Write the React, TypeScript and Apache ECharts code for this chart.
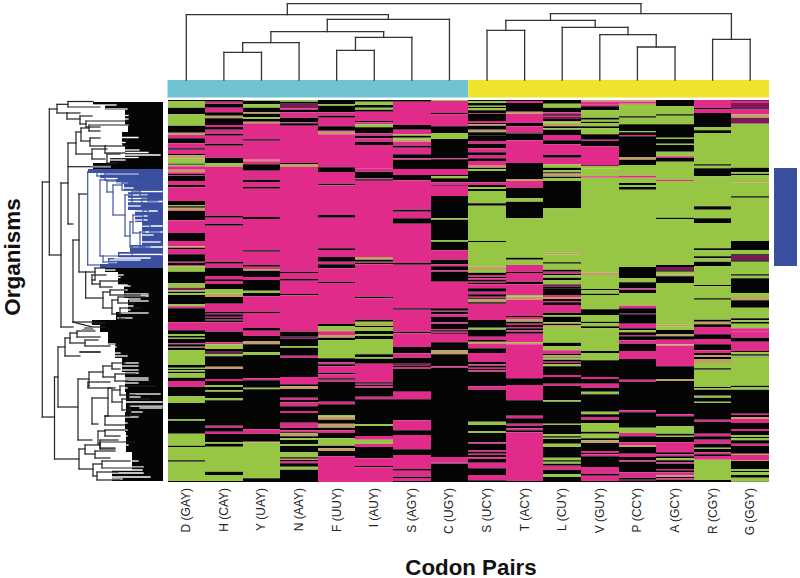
import React, { useEffect, useRef } from "react";
import * as echarts from "echarts";

const categories = ["D (GAY)", "H (CAY)", "Y (UAY)", "N (AAY)", "F (UUY)", "I (AUY)", "S (AGY)", "C (UGY)", "S (UCY)", "T (ACY)", "L (CUY)", "V (GUY)", "P (CCY)", "A (GCY)", "R (CGY)", "G (GGY)"];

// Runs per column: state letter + row where the run ends (G up, P down, K neutral, T/M mixed)
const colD = "K1 G7.7 K14.3 G25.7 K32.7 T35 P38.3 K43.3 P48.3 K49.7 P54 K55.3 T58.7 G63.7 K64.7 G66.3 P69.7 T72.3 P74 K75 P75.7 K81 P85 K87.3 P101 K105 G106.3 K107.7 T110.3 P111 K120.3 P133 K141 P146.3 T147.7 K149 P154.3 K161.7 P162.7 K165 P166.3 G171.7 K183 G187.7 M190.3 G191.7 K193.3 G195 K204.3 G206.3 P208.3 K222.3 P230.3 K234 G236 K237.7 G239 K243.3 P244.3 K246.7 T247.7 K250.3 G265 K267.7 G269 K270.3 G271.7 K273 G277.7 K281 P286.7 K296.3 G303 K319 G320.7 K333.7 G345.7 K347 G360.3 K361.7 G381 K382";
const colH = "K1.7 P3.7 K7.7 P12.3 K15.7 T18.3 K25 P27 K29.7 P33.7 K35.7 P43.7 K45.7 P57.7 K63.3 G66 T66.7 P115.7 K117.7 P123.7 K125.7 P161.7 K163.7 P167.7 K176 P179.3 K181 P184 K189 G193.7 T197 K203.7 P211.7 K213.3 M215 K216 M217.7 K219.3 M220.7 K222.3 P231.7 K242.3 P244.3 G249 K251 M253.3 K254.3 G256.3 K266.7 T269 K279 P281 K285 G287 K290.3 G291.7 K298.3 G300.3 K325.7 P327.7 K331.7 P334 K342.3 G343.7 K346.7 G371.7 K375 G381 K382";
const colY = "G1 K4.3 G7.7 K12.3 T13.7 K17 G19 K21.7 T23.3 P39.3 K40.7 P59.7 T61.3 P64.3 K70.7 P79.7 K82 P87 K88.7 P117 K119 P150.3 K151.7 P165 K166.7 P169 T170.7 K177 P180 K190.7 G193 K196.3 P211.7 K213 P228 K230.7 P236 K241 T244.3 K252.3 G255 K278.3 P280.3 K287.7 G289.3 K329.3 P333.7 K341.7 T342.7 G378.3 K382";
const colN = "G1.7 K3.7 M8.3 P9.7 K12.3 P17.7 K22.3 P23.3 K25.7 P63 K64 T67 P171.7 K173 P179 K180.7 P194 K195.3 P231.7 K236.7 M238.7 K246 G247.7 K255.7 P257.7 K277 P284.3 K286.3 T289 K297.7 P299.7 K302.3 P306.3 K311 P313 K322.7 P327.7 K330.3 P332.3 K333.3 T336.3 K338.3 G340 K344.3 G346 K352.3 G357.3 K358.7 T360 K361 P363.3 K366.7 G369.7 K382";
const colF = "K4 G5.7 K12.3 P15.7 K17.7 P26.3 K30.7 P31.7 T34.3 P67.3 K72 P83.7 K85.3 P115 K117.7 P148.3 K150 P157 K161.7 P164.3 K168.3 P181.7 K183 P223.7 K226.3 G231.3 P235 T237.7 K240.3 G258.3 K262.3 P264.3 K266.3 P272.7 K274.3 P278.3 K279.7 P281.7 K301.7 P304.3 K315 G316.5 T319.7 K323.7 T327.7 K330.3 P333 K338.3 G345.7 K348.3 T351 K356.3 P382";
const colI = "K1.7 G5 K7.7 G9.7 K11.7 P21 K22.3 P24.3 G27.3 K33.3 P35.7 K38.3 P41.7 K45 P68.3 P71.7 K78.3 P79.3 K80.7 P157 T159.7 K161.7 P162.7 K164.3 P196.7 K198.3 P219.7 K221.7 G224 T226 K227 G231 K234.3 G236 K239 G254.3 K257 G258.7 K263.7 P282.3 K283.7 P285 K286.3 P287.7 K296.7 P299.3 K324.3 G326 K336 P339.7 G344 P347 K358.3 P366 K367.3 P382";
const colS = "K1.7 P25 K29.7 P34.3 G35.7 K37.7 G39.7 T41.7 P45.7 K47.7 P54.3 K58.3 P59.7 K69 P75 K80.3 P109.7 K111.7 P118.3 K123.7 P162.7 K164.7 P208.3 K209.7 P231.7 K233.3 P247 K253.3 P257.7 K263.7 M265.7 K267 P268.7 K291.7 P299.3 K320.3 P330.3 K335 P349.3 K355 P369 K370.7 P376.7 K378 P381 K382";
const colC = "G1 P13 K14.3 P26.3 K33 G39 K58.3 P59.3 K69 P75 K76 G78.3 K82.3 P85 K85.7 P96 K118.3 G119.7 K140 G141.7 K150.3 P159.7 K164.3 P166.3 K170.3 P171.7 K181.7 P208.3 K210.7 P211.7 K214.3 P217 K222.3 P223.7 K229 P230.3 K231.7 P233.3 K234 P242.3 K250.3 T254.3 K266.3 P267.7 K357 P361.7 K362.3 P363.7 K382";
const colS2 = "K1 G3 K5.7 G7 K8.3 G10.3 K13 P13.7 K21 P23 K24.3 T25.7 K29.7 T32.3 K35.7 K41 P43.7 K48.3 P52.3 K55 P58.3 K61 P65.7 T67.7 K69 G71 K81 K82.3 P85 K87 G89 K91 G103.3 K105.7 G141 K142 G166.7 T170 G172.7 K175 P176.7 K178.3 P180 K181.7 P183 K184.3 P188.3 K191.7 P194.3 K196.7 P198.3 K199 T202.3 K203.7 P220 K227.7 G229.7 K236.7 P240 K241.7 T244 P248.3 K253 P261.7 K264.3 P265.7 K267.7 P269 K270.3 P271.7 K286.3 P289.7 K321.7 G325 K331 G333 K342.3 P343.7 K350 P351.7 K353.7 P355 K357.3 P359 K362.7 P368.3 K375 P380.3 K382";
const colT = "K1 P3 K11.7 T13.7 P23 K26.3 P32.3 M33.5 K35 K40.3 P63 K79 T81 P87.7 K98.3 G101.7 K118.3 G157.7 K159.7 G165 P171.7 K173 P181.7 K184.3 P195 G196.5 T199.7 P215.7 K217 P219 T221.7 K223.7 P225 K227 P228.3 K230.3 P231.7 K233.7 P242.3 T244.3 P278.3 K285 P300.3 K315.7 P318.3 K323.7 P325.7 K328.3 P330.3 K332.3 P381 K382";
const colL = "K3.7 G7.7 K12.3 P14.3 K15.7 P17 M19 K21 T22.3 G24 T26.3 K28.3 G29.7 K35 P40.3 K44.3 P55 K57.7 P64.3 G67.7 K70.3 G72.3 K73.5 T76.7 K78.3 G81 K108.3 G152.3 T154.3 G162.3 K163.7 G169.7 K171.7 P173.7 K175 G177.7 K180 G184.3 M186.7 K188.3 K195 P197 T199 K201 P202.3 K205 P212.7 K215 G216.7 K222.3 G223.7 K225 T227 G242.7 K246.3 G250.3 P253.7 K255 T257.7 K258.3 G259.7 K261.7 P263 K264.3 G266.3 K275 P277 K283.7 P285.7 K300.3 G301.7 K323.7 G325 K334.3 G336.3 K337.7 G339 K343.7 G347 K357.7 G360.3 K361.7 G363.7 K365.7 P369.7 K374.3 G377 K382";
const colV = "T1.7 P4.3 P6.3 K10.3 G17.7 K19.7 G21.7 K23 G26.3 K28.3 G34.3 K39.7 P41 K46.3 P65 M66 G68.3 G76.3 P77.7 G172.3 T175 G189 K190.3 G193.7 K195 G209.3 K215 G221.7 K223 G226.3 K228.3 G251 K253 G260.3 K277 P279 K283.7 P287.7 K291.7 G294.3 K311.7 G314.3 K317 P319.7 K323 G331.7 K333.7 G338.3 K340.3 T343 K351 P353 K354.3 P356.3 K367 P373.7 K375.7 P381 K382";
const colP = "T1.7 P3.7 T5 G16.3 K17.7 G24.3 K31 G32.3 K35 P36.3 K57 T59.7 K65 G75.7 P77.7 G83 K85 G87 K89.7 G167 K178.3 G182.3 K188.3 P189.7 K193 G205.7 P208.3 K213.7 P214.3 K223.7 P228.3 K230.3 G232.3 K235 P236.3 K240.3 P243.7 K251 P259 K279.7 P281.7 K310.3 P312.3 K327.7 G333 P336.3 K342.3 P345 T347 K353.7 P357 K360.3 P361.7 K372.3 P377.7 K379.7 M381 K382";
const colA = "K6.3 G14.3 K15.7 G24.3 K37.7 G39 K43.7 G45 K51.7 G56.3 P57.7 K61.7 G79.7 P81 G117.7 K119 G165 K167 M170.3 K171.7 G174.5 T176.3 K183 G224.3 T226.3 G230 K234.3 T236.3 K239.7 P244.3 T245.7 P266.3 K279 T281 K314.3 P316.3 K326.3 G333.7 K335.7 G337 K342.3 P352.3 K354.3 P356.3 K358.3 G360.3 K362.3 P363.7 K369 P370.3 K372.3 P375.5 T377 K378.3 P379.7 K382";
const colR = "P7.7 K9 P13 K27 G30.3 K33 G64.3 K65.7 G68.3 K76.3 G106.3 K109.7 G118.3 K123 G148.3 K150.3 G156.3 K158.3 G161.7 K166.3 G185 K186.3 G198.3 K199.7 G219.7 K221.7 T224.3 K227 P234.3 K239 P244.3 K250.3 P253 K255 T257 K259 T263 G268.3 K269.7 G287 K288.3 G289.7 K295.7 G297.7 K301.7 G303 K319.7 P321.7 K333.7 P336.3 K339.7 P343.7 K347.7 G349 K352.3 P354.3 K356 P359.7 G380 K382";
const colG = "M1 P3 M9.7 P14.3 T17.7 M23.7 G67.7 K72.3 G73.7 K75 G81 T82.3 G96.3 K97.7 G141 K150.3 G154.3 K155.7 M160.3 K161.7 G174.3 K175.7 G178.3 K193 G197 T200.3 K207.7 G218.3 K220.3 G222 K223.7 G228.3 P231.7 P237.7 K241.7 P251 K252 G254.3 K255.7 G257.5 K257.7 G285.7 K287 G289.7 K313.7 P315 K317 T319 P323 K329 P331 K335 G337 K338.3 G340.3 K343.7 P345.7 K353.7 T355 P360 T361 K369 G371 K372.3 G375 K377.7 G381.7 K382";
const columnRuns = [colD, colH, colY, colN, colF, colI, colS, colC, colS2, colT, colL, colV, colP, colA, colR, colG];
const stateColors: Record<string, string> = { G: "#97c644", P: "#e02b8a", K: "#050505", T: "#c2a063", M: "#7d1a55" };

// Column tree: [left, right, height]; numbers are columns, "mN" an earlier merge
const topMerges: [number | string, number | string, number][] = [
  [1, 2, 52.3], ["m0", 3, 42.7], [4, 5, 50.3], ["m2", 6, 37.3], ["m1", "m3", 31.7], ["m4", 7, 19.3], [0, "m5", 14.7],
  [8, 9, 30.3], [12, 13, 47], [11, "m8", 34.7], [10, "m9", 27.3], ["m7", "m10", 20.3], [14, 15, 39.3], ["m11", "m12", 13.7], ["m6", "m13", 3.7],
];
const topBars: [number, number, string][] = [[0, 8, "#6fc3d3"], [8, 16, "#efe32c"]];

// Row tree brackets: [x, yTop, yBottom, xTopEnd, xBottomEnd]
const rowBrackets: number[][] = [
  [42.3, 182, 417, 49.3, 54.5], [49.3, 109, 255, 57, 61], [57, 104.3, 113, 68, 67], [68, 101.5, 107, 93, 100], [67, 113, 119, 80, 80],
  [80, 116, 124, 92, 86], [86, 121, 127, 128, 100], [61, 183, 327, 68, 73], [68, 143, 224, 76, 73], [76, 132, 154, 81, 92],
  [81, 128, 141, 89, 90], [89, 125, 131, 128, 100], [90, 138, 146, 100, 105], [92, 149, 159, 107, 105], [105, 146, 153, 128, 125], [107, 154, 163, 120, 118],
  [73, 240, 322, 79, 97], [79, 194, 272, 87, 85.7], [85.7, 272, 298, 95, 103], [95, 268, 280, 105, 92], [92, 275, 284, 106, 100], [100, 281, 287, 120, 112],
  [103, 292, 308, 110, 112], [110, 290, 295, 125, 140], [112, 300, 314, 118, 120], [118, 297, 303, 145, 135], [120, 308, 319, 140, 125],
  [54.5, 377, 459, 58, 79], [58, 347, 407, 65, 78], [65, 338, 356, 70, 80], [70, 333, 343, 77, 85], [77, 331, 337, 95, 100], [85, 340, 346, 98, 110], [80, 352, 352, 100, 100],
  [78, 379, 440, 89, 92], [89, 372, 386, 103, 88], [103, 366, 377, 112, 115], [112, 363, 369, 125, 120], [115, 374, 381, 135, 128], [88, 382, 388, 110, 115],
  [92, 398, 424, 108, 98], [108, 388, 416, 112, 105], [112, 390, 402, 120, 122], [120, 386, 395, 155, 135], [122, 399, 410, 150, 130], [130, 405, 415, 162, 140],
  [105, 416, 425, 130, 125], [98, 431, 444, 105, 100], [105, 430, 436, 125, 120], [100, 440, 449, 118, 115],
  [79, 449, 469, 85, 93], [85, 445, 454, 100, 95], [100, 442, 448, 135, 115], [95, 451, 458, 115, 110], [93, 464, 476, 102, 97], [102, 461, 468, 130, 142], [97, 472, 480, 118, 120],
];
const rowLines: number[][] = [[68, 166.7, 92, 166.7], [73, 322, 92, 327], [92, 323, 105, 323], [92, 327, 105, 327]];
const rowGrayLines: number[][] = [[92, 166.7, 110, 166.7], [85, 328, 92, 328], [83, 330, 93, 330]];
const blueBrackets: number[][] = [
  [87.7, 172, 265, 97, 100], [97, 170, 176, 110, 105], [105, 174, 180, 138, 125], [100, 180, 256, 107, 103], [107, 181, 192, 135, 113], [113, 185, 215, 122, 125],
  [122, 183, 190, 145, 150], [125, 195, 236, 132, 130], [132, 192, 204, 140, 142], [140, 190, 196, 162, 150], [142, 199, 209, 148, 150], [148, 198, 201, 162, 158], [130, 222, 247, 133, 132],
  [133, 215, 233, 143, 140], [143, 210, 225, 148, 150], [148, 207, 214, 162, 160], [150, 220, 232, 158, 160], [140, 232, 247, 145, 150], [132, 247, 256, 145, 160], [103, 256, 262, 135, 115],
];
const blueTips: number[][] = [
  [174, 100, 138], [178.5, 105, 117], [183, 110, 127], [188, 115, 133], [191.5, 120, 162], [195, 125, 147], [198.5, 125, 147], [201.5, 125, 162], [206, 125, 140], [211, 125, 157], [216, 125, 147],
  [220, 130, 147], [226, 130, 162], [232, 130, 162], [235, 130, 153], [242, 130, 160], [247, 130, 162], [254.5, 120, 162], [258, 115, 150], [260, 110, 140], [262.5, 100, 116],
];
const blackTips: number[][] = [
  [105, 93, 116], [109, 100, 127], [115.5, 100, 128], [119, 100, 128], [125, 100, 128], [128, 100, 127], [137.5, 100, 138], [142.5, 108, 125], [145, 110, 122], [150, 115, 139], [152.5, 115, 148], [155, 105, 160],
  [157.5, 110, 138], [160, 105, 125], [270, 96, 115], [275, 107, 123], [277.5, 107, 120], [285, 110, 127], [286, 110, 130], [290, 120, 127], [294, 125, 148], [296, 115, 148], [299, 125, 140], [301, 130, 148], [306, 125, 133], [310, 120, 130], [313, 120, 148], [318, 118, 132],
  [333, 95, 106], [336, 98, 100], [340, 95, 100], [344, 95, 115], [347, 105, 116], [350, 92, 110], [353, 90, 120], [356, 100, 127], [363, 125, 138], [366, 112, 138], [370, 118, 138], [373, 115, 138], [378, 120, 148], [380, 120, 148], [383, 112, 138], [388, 110, 127],
  [394, 130, 160], [397, 130, 140], [402, 125, 162], [406, 130, 162], [408, 140, 162], [412, 132, 142], [417, 115, 138], [423, 105, 127], [426, 105, 120], [430, 105, 127], [436, 100, 127], [440, 100, 125], [445, 110, 128], [451, 100, 125], [454, 100, 115], [461, 112, 138], [464, 105, 113], [467, 120, 143], [470, 105, 142], [473, 100, 143], [477, 105, 150], [479, 112, 122],
];
// Silhouette of dense leaves: [row where the step ends, left edge]
const blackStepsUpper: number[][] = [
  [105, 93], [110, 105], [125, 125], [132, 128], [146, 122], [158, 125], [163, 110], [169, 93],
];
const blackStepsLower: number[][] = [
  [272, 105], [285, 118], [298, 124], [312, 128], [320, 116], [325, 92], [332, 100], [345, 108], [358, 115], [372, 122], [392, 125], [412, 126], [432, 125], [452, 126], [470, 132], [481, 112],
];
const blueSteps: number[][] = [
  [173, 88], [178, 100], [184, 116], [192, 124], [210, 128], [222, 135], [245, 142], [252, 130], [258, 118], [264, 108], [268, 100],
];
const shapeRight = 163;
const sideBar = [68, 166];

const stepShape = (steps: number[][], top: number) => {
  const pts: number[][] = [[shapeRight, top]];
  let y = top;
  steps.forEach(([end, x]) => { pts.push([x, y], [x, end]); y = end; });
  pts.push([shapeRight, y]);
  return pts;
};

const tops = (() => {
  const nodes: { x: number; h: number }[] = [];
  const out: number[][] = [];
  const leaf = 80;
  const get = (r: number | string) => (typeof r === "number" ? { x: r + 0.5, h: leaf } : nodes[Number(r.slice(1))]);
  topMerges.forEach(([a, b, h]) => {
    const l = get(a), r = get(b);
    out.push([l.x, l.h, l.x, h], [l.x, h, r.x, h], [r.x, h, r.x, r.h]);
    nodes.push({ x: (l.x + r.x) / 2, h });
  });
  return out;
})();

const bracketSegs = (list: number[][]) =>
  list.flatMap(([x, y0, y1, a, b]) => [[x, y0, x, y1], [x, y0, a, y0], [x, y1, b, y1]]);
const tipSegs = (list: number[][]) => list.map(([y, a, b]) => [a, y, b, y]);

const cellData = columnRuns.flatMap((runs, col) => {
  let start = 0;
  return runs.split(" ").map((tok) => {
    const end = parseFloat(tok.slice(1));
    const row = [col, start, end, tok[0]];
    start = end;
    return row;
  });
});

const segSeries = (segs: number[][], color: string, width: number, idx: number) => ({
  type: "custom", xAxisIndex: idx, yAxisIndex: idx, silent: true, z: 3,
  data: segs,
  renderItem: (_: any, api: any) => {
    const p = api.coord([api.value(0), api.value(1)]);
    const q = api.coord([api.value(2), api.value(3)]);
    return { type: "line", shape: { x1: p[0], y1: p[1], x2: q[0], y2: q[1] }, style: { stroke: color, lineWidth: width, lineCap: "square" } };
  },
});
const shapeSeries = (pts: number[][], color: string, z: number) => ({
  type: "custom", xAxisIndex: 1, yAxisIndex: 1, silent: true, z,
  data: [[pts[0][0], pts[0][1]]],
  renderItem: (_: any, api: any) => ({ type: "polygon", shape: { points: pts.map((p) => api.coord(p)) }, style: { fill: color } }),
});

const hidden = (extra: any) => ({ type: "value", show: false, ...extra });

export default function App() {
  const ref = useRef<HTMLDivElement>(null);
  useEffect(() => {
    const chart = echarts.init(ref.current!, null, { renderer: "svg" });
    chart.setOption({
      animation: false,
      backgroundColor: "#ffffff",
      grid: [
        { left: 167.5, top: 100, width: 601.5, height: 382 },
        { left: 0, top: 0, width: 165, height: 578 },
        { left: 167.5, top: 0, width: 601.5, height: 98 },
        { left: 774, top: 100, width: 23, height: 382 },
      ],
      xAxis: [
        {
          type: "category", gridIndex: 0, data: categories, position: "bottom",
          axisLine: { show: false }, axisTick: { show: false }, splitLine: { show: false },
          axisLabel: { rotate: 90, margin: 6, fontSize: 12, color: "#222", fontFamily: "Liberation Sans", interval: 0 },
        },
        hidden({ gridIndex: 1, min: 0, max: 165 }),
        hidden({ gridIndex: 2, min: 0, max: 16 }),
        hidden({ gridIndex: 3, min: 0, max: 1 }),
      ],
      yAxis: [
        hidden({ gridIndex: 0, min: 0, max: 382, inverse: true }),
        hidden({ gridIndex: 1, min: 0, max: 578, inverse: true }),
        hidden({ gridIndex: 2, min: 0, max: 98, inverse: true }),
        hidden({ gridIndex: 3, min: 0, max: 382, inverse: true }),
      ],
      series: [
        {
          type: "custom", xAxisIndex: 0, yAxisIndex: 0, silent: true,
          data: cellData,
          encode: { x: 0, y: [1, 2] },
          renderItem: (p: any, api: any) => {
            const w = api.size([1, 0])[0];
            const a = api.coord([api.value(0), api.value(1)]);
            const b = api.coord([api.value(0), api.value(2)]);
            const state = cellData[p.dataIndex][3] as string;
            const x0 = Math.round(a[0] - w / 2), x1 = Math.round(a[0] + w / 2);
            return { type: "rect", shape: { x: x0, y: a[1], width: x1 - x0, height: b[1] - a[1] }, style: { fill: stateColors[state] } };
          },
        },
        shapeSeries(stepShape(blackStepsUpper, 102), "#050505", 1),
        shapeSeries(stepShape(blackStepsLower, 268), "#050505", 1),
        shapeSeries(stepShape(blueSteps, 169), "#3a4fa0", 1),
        segSeries(tipSegs(blackTips), "#ffffff", 1.3, 1),
        segSeries(tipSegs(blueTips), "#ffffff", 1.3, 1),
        segSeries(bracketSegs(rowBrackets), "#222222", 1.2, 1),
        segSeries(rowLines, "#222222", 1.2, 1),
        segSeries(rowGrayLines, "#8a8a8a", 2, 1),
        segSeries(bracketSegs(blueBrackets), "#3f55a6", 1.2, 1),
        segSeries(tops, "#333333", 1.3, 2),
        {
          type: "custom", xAxisIndex: 2, yAxisIndex: 2, silent: true,
          data: topBars.map(([a, b]) => [a, b]),
          renderItem: (p: any, api: any) => {
            const s = api.coord([api.value(0), 80]);
            const e = api.coord([api.value(1), 97.5]);
            return { type: "rect", shape: { x: s[0], y: s[1], width: e[0] - s[0], height: e[1] - s[1] }, style: { fill: topBars[p.dataIndex][2] } };
          },
        },
        {
          type: "custom", xAxisIndex: 3, yAxisIndex: 3, silent: true,
          data: [[0, 1, sideBar[0], sideBar[1]]],
          renderItem: (_: any, api: any) => {
            const s = api.coord([api.value(0), api.value(2)]);
            const e = api.coord([api.value(1), api.value(3)]);
            return { type: "rect", shape: { x: s[0], y: s[1], width: e[0] - s[0], height: e[1] - s[1] }, style: { fill: "#3a4fa0" } };
          },
        },
      ],
      graphic: [
        { type: "text", x: 12, y: 257, rotation: Math.PI / 2, style: { text: "Organisms", font: 'bold 22.5px "Liberation Sans"', fill: "#111", textAlign: "center", textVerticalAlign: "middle" } },
        { type: "text", x: 471, y: 567, style: { text: "Codon Pairs", font: 'bold 22.3px "Liberation Sans"', fill: "#111", textAlign: "center", textVerticalAlign: "middle" } },
      ],
    });
    return () => chart.dispose();
  }, []);
  return <div ref={ref} style={{ position: "absolute", left: 0, top: 0, width: 800, height: 578 }} />;
}
